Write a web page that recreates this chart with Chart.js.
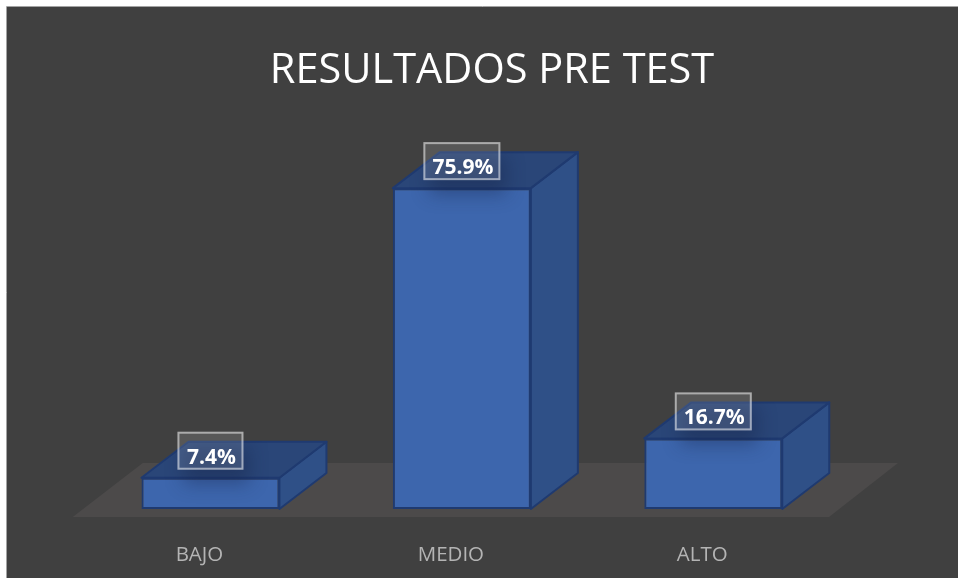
<!DOCTYPE html>
<html><head><meta charset="utf-8">
<style>html,body{margin:0;padding:0;background:#fff;overflow:hidden}canvas{display:block}</style>
<script src="https://cdn.jsdelivr.net/npm/chart.js@4"></script>
</head><body><canvas id="c" width="958" height="578"></canvas>
<script>
const categories = ['BAJO', 'MEDIO', 'ALTO'];
const percentages = [7.4, 75.9, 16.7];
const chartTitle = 'RESULTADOS PRE TEST';

const DX = 47, DY = -36;
function poly(ctx, pts){ctx.beginPath();pts.forEach((p,i)=>i?ctx.lineTo(p[0],p[1]):ctx.moveTo(p[0],p[1]));ctx.closePath();}

const scene = {
  id:'scene',
  afterLayout(chart){ const t = chart.titleBlock; t.right = 2*492 - t.left; },
  beforeDraw(chart){
    const ctx = chart.ctx;
    ctx.save();
    ctx.fillStyle = '#ffffff'; ctx.fillRect(0,0,958,578);
    ctx.fillStyle = '#404040'; ctx.fillRect(7,7,951,571);
    ctx.strokeStyle = '#a3a3a3'; ctx.lineWidth = 1;
    ctx.beginPath(); ctx.moveTo(6.5,578); ctx.lineTo(6.5,6.5); ctx.lineTo(958,6.5); ctx.stroke();
    ctx.restore();
  },
  beforeDatasetsDraw(chart){
    const ctx = chart.ctx, x = chart.scales.x, y = chart.scales.y, b = y.getPixelForValue(0);
    ctx.save();
    ctx.fillStyle = '#4c4a4a';
    poly(ctx,[[x.left-12,b+8],[x.right-10,b+8],[x.right+59,b-46],[x.left+58,b-46]]);
    ctx.fill();
    chart.getDatasetMeta(0).data.forEach(bar=>{
      const l = bar.x-bar.width/2, r = bar.x+bar.width/2, t = bar.y, bt = bar.base;
      ctx.lineJoin='round'; ctx.lineWidth=2; ctx.strokeStyle='#1f3a70';
      ctx.fillStyle='#2f5087';
      poly(ctx,[[r,t],[r+DX,t+DY],[r+DX,bt+DY],[r,bt]]); ctx.fill(); ctx.stroke();
      ctx.fillStyle='#2a4678';
      poly(ctx,[[l,t],[l+DX,t+DY],[r+DX,t+DY],[r,t]]); ctx.fill(); ctx.stroke();
    });
    ctx.restore();
  },
  afterDatasetsDraw(chart){
    const ctx = chart.ctx, meta = chart.getDatasetMeta(0);
    ctx.save();
    meta.data.forEach((bar,i)=>{
      const text = percentages[i].toFixed(1)+'%';
      const w=66+(text.length>4?11:0), h=38, bx=bar.x-w/2, by=bar.y-46;
      const l = bar.x-bar.width/2, r = bar.x+bar.width/2, t = bar.y, bt = bar.base;
      ctx.save();
      poly(ctx,[[l,t],[l+DX,t+DY],[r+DX,t+DY],[r+DX,bt+DY],[r,bt],[l,bt]]); ctx.clip();
      ctx.shadowColor='rgba(20,35,70,.38)'; ctx.shadowBlur=18; ctx.shadowOffsetX=1000; ctx.shadowOffsetY=6;
      ctx.fillStyle='#000'; ctx.fillRect(bx+6-1000,by+8,w,h);
      ctx.restore();
      ctx.fillStyle='rgba(255,255,255,.12)'; ctx.fillRect(bx,by,w,h);
      ctx.strokeStyle='rgba(255,255,255,.5)'; ctx.lineWidth=2; ctx.strokeRect(bx+1,by+1,w-2,h-2);
      ctx.fillStyle='#ffffff'; ctx.font='bold 21px "Open Sans"'; ctx.textAlign='center'; ctx.textBaseline='middle';
      ctx.fillText(text,bar.x+1,by+26);
    });
    ctx.restore();
  }
};

new Chart(document.getElementById('c'),{
  type:'bar',
  plugins:[scene],
  data:{labels:categories,datasets:[{data:percentages,backgroundColor:'#3d66ad',borderColor:'#1f3a70',borderWidth:2,borderSkipped:false,barPercentage:138/251.5,categoryPercentage:1}]},
  options:{
    responsive:false,animation:false,
    layout:{padding:{left:84.75,right:119,top:0,bottom:0}},
    plugins:{
      legend:{display:false},tooltip:{enabled:false},
      title:{display:true,text:chartTitle,color:'#ffffff',font:{family:'"Open Sans"',size:41.5,weight:'normal',lineHeight:1.2},padding:{top:46,bottom:75}}
    },
    scales:{
      x:{grid:{display:false},border:{display:false},ticks:{color:'#b4b4b4',font:{family:'"Open Sans"',size:20.5},padding:26,labelOffset:-11},afterFit(s){s.height=69;}},
      y:{display:false,min:0,max:80}
    }
  }
});
</script></body></html>
